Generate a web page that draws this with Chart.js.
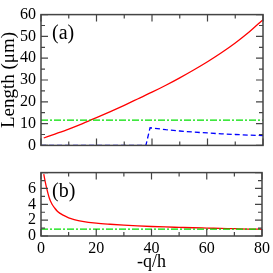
<!DOCTYPE html>
<html>
<head>
<meta charset="utf-8">
<script src="https://cdn.jsdelivr.net/npm/chart.js@4"></script>
<style>
  html, body { margin: 0; padding: 0; background: #fff; }
  #wrap { position: relative; width: 273px; height: 273px; overflow: hidden; }
  canvas { position: absolute; left: 0; }
</style>
</head>
<body>
<div id="wrap">
  <canvas id="top-chart" width="273" height="160" style="top:0"></canvas>
  <canvas id="bot-chart" width="273" height="115" style="top:158px"></canvas>
</div>
<script>
/* ── Data ── */
const topRedX  = [1, 5, 10, 15, 20, 25, 30, 35, 40, 45, 50, 55, 60, 65, 70, 75, 80];
const topRedY  = [3.4, 5.2, 7.5, 10.0, 12.7, 15.5, 18.4, 21.4, 24.4, 27.6, 31.0, 34.6, 38.4, 42.5, 47.0, 52.0, 57.7];
const topBlueX = [0, 37.8, 39.3, 45, 50, 55, 60, 65, 70, 75, 80];
const topBlueY = [0, 0, 8.1, 7.2, 6.6, 6.1, 5.7, 5.3, 5.0, 4.7, 4.5];
const topGreenX = [0, 80];
const topGreenY = [11.6, 11.6];

const botRedX  = [1, 1.5, 2, 3, 4, 5, 6, 8, 10, 12, 15, 20, 25, 30, 35, 40, 45, 50, 55, 60, 65, 70, 75, 80];
const botRedY  = [7.8, 6.9, 6.1, 4.8, 4.0, 3.5, 3.1, 2.63, 2.3, 2.08, 1.85, 1.62, 1.48, 1.37, 1.28, 1.2, 1.14, 1.09, 1.04, 1.0, 0.96, 0.92, 0.88, 0.85];
const botGreenX = [0, 80];
const botGreenY = [0.88, 0.88];

const xMajor = [0, 20, 40, 60, 80];
const xMinor = [10, 30, 50, 70];
const topYMajor = [0, 10, 20, 30, 40, 50, 60];
const topYMinor = [5, 15, 25, 35, 45, 55];
const botYMajor = [0, 2, 4, 6, 8];
const botYMinor = [1, 3, 5, 7];

const SERIF = '"Liberation Serif", "DejaVu Serif", serif';
const pts = (xs, ys) => xs.map((x, i) => ({ x, y: ys[i] }));

/* ── Frame + inward ticks + panel label ── */
function framePlugin(yMajor, yMinor, label) {
  return {
    id: 'frame',
    afterDraw(chart) {
      const { ctx, chartArea: a, scales } = chart;
      const sx = scales.x, sy = scales.y;
      ctx.save();
      ctx.strokeStyle = '#444';
      ctx.lineWidth = 1.5;
      ctx.strokeRect(a.left, a.top, a.right - a.left, a.bottom - a.top);
      ctx.lineWidth = 1.2;
      ctx.beginPath();
      const tickX = (v, len) => {
        const px = sx.getPixelForValue(v);
        ctx.moveTo(px, a.bottom); ctx.lineTo(px, a.bottom - len);
        ctx.moveTo(px, a.top);    ctx.lineTo(px, a.top + len);
      };
      const tickY = (v, len) => {
        const py = sy.getPixelForValue(v);
        ctx.moveTo(a.left, py);  ctx.lineTo(a.left + len, py);
        ctx.moveTo(a.right, py); ctx.lineTo(a.right - len, py);
      };
      xMajor.forEach(v => tickX(v, 7));
      xMinor.forEach(v => tickX(v, 4));
      yMajor.forEach(v => tickY(v, 7));
      yMinor.forEach(v => tickY(v, 4));
      ctx.stroke();
      ctx.fillStyle = '#000';
      ctx.font = '20px ' + SERIF;
      ctx.textBaseline = 'middle';
      ctx.fillText(label, a.left + 11, a.top + 19);
      ctx.restore();
    }
  };
}

const redStyle   = { borderColor: '#ff0000', borderWidth: 1.3, pointRadius: 0, fill: false, cubicInterpolationMode: 'monotone' };
const blueStyle  = { borderColor: '#0000ff', borderWidth: 1.3, pointRadius: 0, fill: false, borderDash: [5, 3] };
const greenStyle = { borderColor: '#00e000', borderWidth: 1.3, pointRadius: 0, fill: false, borderDash: [7, 2, 2, 2] };

/* ── Top panel (a) ── */
new Chart(document.getElementById('top-chart'), {
  type: 'line',
  data: {
    datasets: [
      { data: pts(topGreenX, topGreenY), ...greenStyle },
      { data: pts(topBlueX, topBlueY), ...blueStyle },
      { data: pts(topRedX, topRedY), ...redStyle },
    ]
  },
  options: {
    responsive: false, animation: false,
    layout: { padding: { top: 6, right: 10, bottom: 5, left: 0 } },
    plugins: { legend: { display: false }, tooltip: { enabled: false } },
    scales: {
      x: { type: 'linear', min: 0, max: 80, display: false },
      y: {
        min: 0, max: 60,
        ticks: { stepSize: 10, autoSkip: false, color: '#000', padding: 5, font: { family: SERIF, size: 16 } },
        grid: { display: false, drawTicks: false },
        border: { display: false },
        title: { display: true, text: 'Length (μm)', color: '#000', padding: 0, font: { family: SERIF, size: 19, lineHeight: 1 } },
        afterFit: s => { s.width = 41; }
      }
    }
  },
  plugins: [framePlugin(topYMajor, topYMinor, '(a)')]
});

/* ── Bottom panel (b) ── */
new Chart(document.getElementById('bot-chart'), {
  type: 'line',
  data: {
    datasets: [
      { data: pts(botGreenX, botGreenY), ...greenStyle },
      { data: pts(botRedX, botRedY), ...redStyle },
    ]
  },
  options: {
    responsive: false, animation: false,
    layout: { padding: { top: 4, right: 10, bottom: 0, left: 0 } },
    plugins: { legend: { display: false }, tooltip: { enabled: false } },
    scales: {
      x: {
        type: 'linear', min: 0, max: 80,
        ticks: { stepSize: 20, autoSkip: false, color: '#000', padding: 3, maxRotation: 0, font: { family: SERIF, size: 16 } },
        grid: { display: false, drawTicks: false },
        border: { display: false },
        title: { display: true, text: '-q/h', color: '#000', padding: 0, font: { family: SERIF, size: 18 } },
        afterFit: s => { s.height = 37; }
      },
      y: {
        min: 0, max: 8,
        ticks: { stepSize: 2, autoSkip: false, color: '#000', padding: 5, font: { family: SERIF, size: 16 },
                 callback: v => v === 8 ? '' : v },
        grid: { display: false, drawTicks: false },
        border: { display: false },
        afterFit: s => { s.width = 41; }
      }
    }
  },
  plugins: [framePlugin(botYMajor, botYMinor, '(b)')]
});
</script>
</body>
</html>
